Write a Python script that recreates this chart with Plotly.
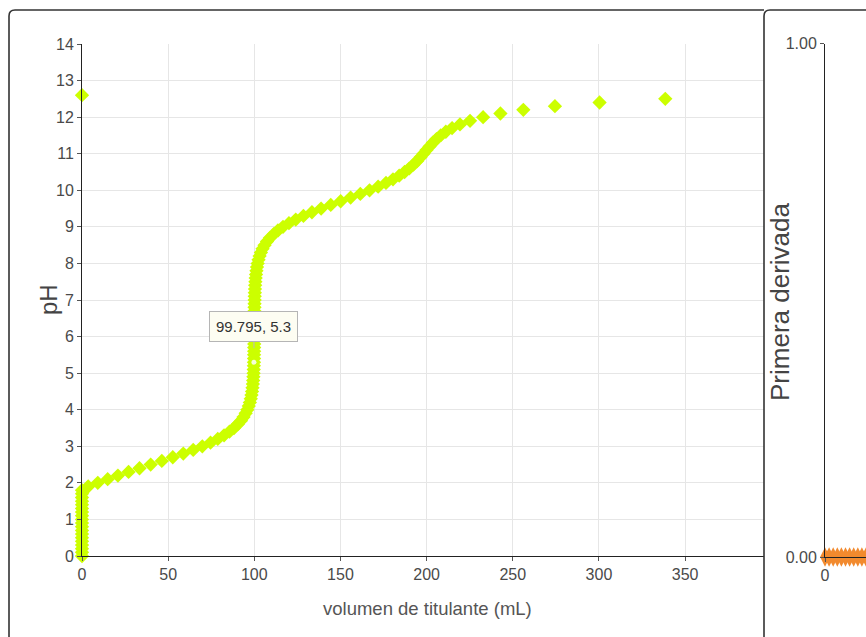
import plotly.graph_objects as go

# ---------------- data ----------------
ph_values = [
    0.0, 0.1, 0.2, 0.3, 0.4, 0.5, 0.6, 0.7, 0.8, 0.9,
    1.0, 1.1, 1.2, 1.3, 1.4, 1.5, 1.6, 1.7, 1.8, 1.9,
    2.0, 2.1, 2.2, 2.3, 2.4, 2.5, 2.6, 2.7, 2.8, 2.9,
    3.0, 3.1, 3.2, 3.3, 3.4, 3.5, 3.6, 3.7, 3.8, 3.9,
    4.0, 4.1, 4.2, 4.3, 4.4, 4.5, 4.6, 4.7, 4.8, 4.9,
    5.0, 5.1, 5.2, 5.3, 5.4, 5.5, 5.6, 5.7, 5.8, 5.9,
    6.0, 6.1, 6.2, 6.3, 6.4, 6.5, 6.6, 6.7, 6.8, 6.9,
    7.0, 7.1, 7.2, 7.3, 7.4, 7.5, 7.6, 7.7, 7.8, 7.9,
    8.0, 8.1, 8.2, 8.3, 8.4, 8.5, 8.6, 8.7, 8.8, 8.9,
    9.0, 9.1, 9.2, 9.3, 9.4, 9.5, 9.6, 9.7, 9.8, 9.9,
    10.0, 10.1, 10.2, 10.3, 10.4, 10.5, 10.6, 10.7, 10.8, 10.9,
    11.0, 11.1, 11.2, 11.3, 11.4, 11.5, 11.6, 11.7, 11.8, 11.9,
    12.0, 12.1, 12.2, 12.3, 12.4, 12.5, 12.6,
]
volume_ml = [
    0, 0, 0, 0, 0, 0, 0, 0, 0, 0,
    0, 0, 0, 0, 0, 0, 0, 0, 0, 3.593,
    9.160, 14.898, 20.850, 27.020, 33.376, 39.847, 46.325, 52.685, 58.797, 64.543,
    69.827, 74.588, 78.796, 82.452, 85.581, 88.224, 90.431, 92.257, 93.758, 94.981,
    95.975, 96.779, 97.426, 97.945, 98.361, 98.694, 98.960, 99.172, 99.342, 99.476,
    99.585, 99.672, 99.740, 99.795, 99.839, 99.874, 99.903, 99.927, 99.946, 99.963,
    99.978, 99.992, 100.005, 100.019, 100.034, 100.050, 100.069, 100.092, 100.119, 100.153,
    100.195, 100.247, 100.313, 100.395, 100.498, 100.627, 100.788, 100.990, 101.244, 101.561,
    101.958, 102.453, 103.068, 103.833, 104.778, 105.942, 107.367, 109.101, 111.195, 113.698,
    116.655, 120.104, 124.061, 128.520, 133.445, 138.762, 144.366, 150.125, 155.893, 161.521,
    166.881, 171.868, 176.413, 180.484, 184.080, 187.227, 189.973, 192.375, 194.500, 196.419,
    198.209, 199.947, 201.717, 203.608, 205.723, 208.186, 211.144, 214.787, 219.362, 225.205,
    232.779, 242.822, 256.127, 274.464, 300.370, 338.516, 0,
]

hover_x = [99.795]
hover_y = [5.3]
hover_text = "99.795, 5.3"

deriv_x = [0, 1, 2, 3, 4, 5, 6, 7, 8, 9, 10, 11, 12]
deriv_y = [0, 0, 0, 0, 0, 0, 0, 0, 0, 0, 0, 0, 0]

x_title = "volumen de titulante (mL)"
y_title = "pH"
y2_title = "Primera derivada"

# ---------------- layout helpers ----------------
W, H = 866, 637


def px(x):
    return x / W


def py(y):
    return 1 - y / H


FONT = "Liberation Sans, Arial, sans-serif"

fig = go.Figure()

fig.add_trace(go.Scatter(
    x=volume_ml, y=ph_values, mode="markers",
    marker=dict(symbol="diamond", size=11, color="#ccff00", line=dict(width=0)),
    xaxis="x", yaxis="y", hoverinfo="skip", showlegend=False, cliponaxis=False,
))
fig.add_trace(go.Scatter(
    x=hover_x, y=hover_y, mode="markers",
    marker=dict(symbol="circle", size=5, color="#f4ffd8", line=dict(width=0)),
    xaxis="x", yaxis="y", hoverinfo="skip", showlegend=False,
))
fig.add_trace(go.Scatter(
    x=deriv_x, y=deriv_y, mode="markers",
    marker=dict(symbol="diamond-tall", size=14, color="#f28a2e", line=dict(width=0)),
    xaxis="x2", yaxis="y2", hoverinfo="skip", showlegend=False, cliponaxis=False,
))

axis_common = dict(
    showline=True, linecolor="#222222", linewidth=1,
    ticks="outside", ticklen=4, tickcolor="#555555",
    tickfont=dict(family=FONT, size=16, color="#4a4a4a"),
    zeroline=False, automargin=False,
)

fig.update_layout(
    width=W, height=H, autosize=False,
    margin=dict(l=0, r=0, t=0, b=0, pad=0),
    paper_bgcolor="white", plot_bgcolor="white",
    showlegend=False,
    xaxis=dict(domain=[px(82), px(764)], range=[0, 395.8], dtick=50, anchor="y",
               showgrid=True, gridcolor="#e6e6e6", **axis_common),
    yaxis=dict(domain=[py(556), py(44)], range=[0, 14], dtick=1, anchor="x",
               showgrid=True, gridcolor="#e6e6e6", **axis_common),
    xaxis2=dict(domain=[px(825), 1], range=[0, 10], dtick=100, anchor="y2",
                showgrid=False, **axis_common),
    yaxis2=dict(domain=[py(557), py(43.5)], range=[0, 1], dtick=1, tickformat=".2f",
                anchor="x2", showgrid=False, **axis_common),
)

# axis titles
fig.add_annotation(text=x_title, xref="paper", yref="paper", x=px(427), y=py(608),
                   xanchor="center", yanchor="middle", showarrow=False,
                   font=dict(family=FONT, size=18.5, color="#555555"))
fig.add_annotation(text=y_title, xref="paper", yref="paper", x=px(48), y=py(300),
                   xanchor="center", yanchor="middle", textangle=-90, showarrow=False,
                   font=dict(family=FONT, size=24, color="#444444"))
fig.add_annotation(text=y2_title, xref="paper", yref="paper", x=px(780), y=py(302),
                   xanchor="center", yanchor="middle", textangle=-90, showarrow=False,
                   font=dict(family=FONT, size=26, color="#444444"))

# tooltip
fig.add_annotation(text=hover_text, x=hover_x[0], y=hover_y[0], xref="x", yref="y",
                   showarrow=True, ax=0, ay=-36, arrowhead=0, arrowwidth=1,
                   arrowcolor="#bbbbbb", standoff=14,
                   bgcolor="#fdfdf2", bordercolor="#b5b5b5", borderwidth=1, borderpad=6,
                   font=dict(family=FONT, size=15, color="#333333"))

# panel borders (rounded)
r = 6
left_path = (f"M {px(9)},{py(660)} L {px(9)},{py(10 + r)} "
             f"Q {px(9)},{py(10)} {px(9 + r)},{py(10)} L {px(764)},{py(10)}")
right_path = (f"M {px(764)},{py(660)} L {px(764)},{py(10 + r)} "
              f"Q {px(764)},{py(10)} {px(764 + r)},{py(10)} L {px(880)},{py(10)}")
for p in (left_path, right_path):
    fig.add_shape(type="path", path=p, xref="paper", yref="paper",
                  line=dict(color="#333333", width=1.6))

fig.write_html("out.html")
